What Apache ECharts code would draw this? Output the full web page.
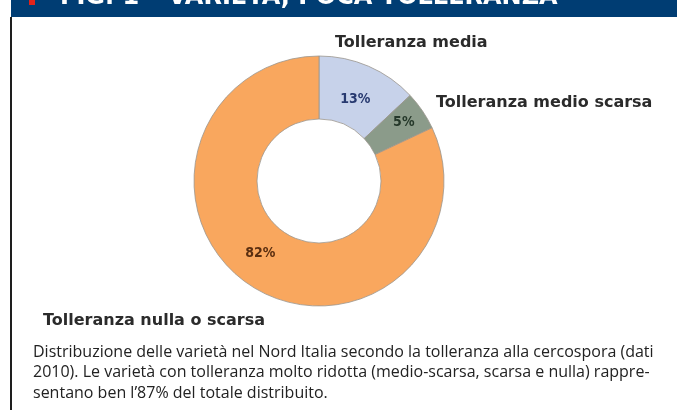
<!DOCTYPE html>
<html>
<head>
<meta charset="utf-8">
<script src="https://cdn.jsdelivr.net/npm/echarts@6/dist/echarts.min.js"></script>
<style>
html,body{margin:0;padding:0;background:#fff;}
#c{width:677px;height:410px;}
</style>
</head>
<body>
<div id="c"></div>
<script>
const title = 'FIG. 1 – VARIETÀ, POCA TOLLERANZA';
const categories = ['Tolleranza media', 'Tolleranza medio scarsa', 'Tolleranza nulla o scarsa'];
const values = [13, 5, 82];
const sliceColors = ['#c7d2ea', '#8b9b8a', '#f9a75e'];
const valueLabelColors = ['#283a70', '#25382a', '#5a2e10'];
const captionLines = [
  'Distribuzione delle varietà nel Nord Italia secondo la tolleranza alla cercospora (dati',
  '2010). Le varietà con tolleranza molto ridotta (medio-scarsa, scarsa e nulla) rappre-',
  'sentano ben l’87% del totale distribuito.'
];
const namePos = [[335, 43], [436, 103], [43, 321]];
const valueLabelShift = [[-2, 7], [5, -4], [-7, -9]];

const chart = echarts.init(document.getElementById('c'));
const graphics = [
  {type:'rect', shape:{x:11, y:0, width:666, height:17}, style:{fill:'#003d73'}},
  {type:'rect', shape:{x:29, y:0, width:6, height:5}, style:{fill:'#e2231a'}},
  {type:'rect', shape:{x:10, y:17, width:2, height:393}, style:{fill:'#1e1e1e'}},
  {type:'text', x:60, y:10, style:{text:title, fill:'#ffffff', font:'bold 24px "DejaVu Sans"', textVerticalAlign:'bottom'}}
];
categories.forEach((c, i) => {
  graphics.push({type:'text', x:namePos[i][0], y:namePos[i][1],
    style:{text:c, fill:'#2b2b2b', font:'bold 16px "DejaVu Sans"', textVerticalAlign:'middle'}});
});
captionLines.forEach((t, i) => {
  graphics.push({type:'text', x:33, y:352 + i*20.5,
    style:{text:t, fill:'#222222', font:'16px "Open Sans"', textVerticalAlign:'middle'}});
});

chart.setOption({
  animation:false,
  graphic: graphics,
  series:[{
    type:'pie',
    center:[319, 181],
    radius:[62, 125],
    startAngle:90,
    clockwise:true,
    avoidLabelOverlap:false,
    itemStyle:{borderColor:'#9a968e', borderWidth:0.8},
    label:{show:true, position:'inside', fontFamily:'DejaVu Sans Condensed', fontWeight:'bold', fontSize:14,
      formatter: p => p.value + '%'},
    labelLine:{show:false},
    labelLayout: p => ({dx: valueLabelShift[p.dataIndex][0], dy: valueLabelShift[p.dataIndex][1]}),
    emphasis:{disabled:true},
    data: values.map((v, i) => ({value:v, name:categories[i],
      itemStyle:{color:sliceColors[i]}, label:{color:valueLabelColors[i]}}))
  }]
});
</script>
</body>
</html>
